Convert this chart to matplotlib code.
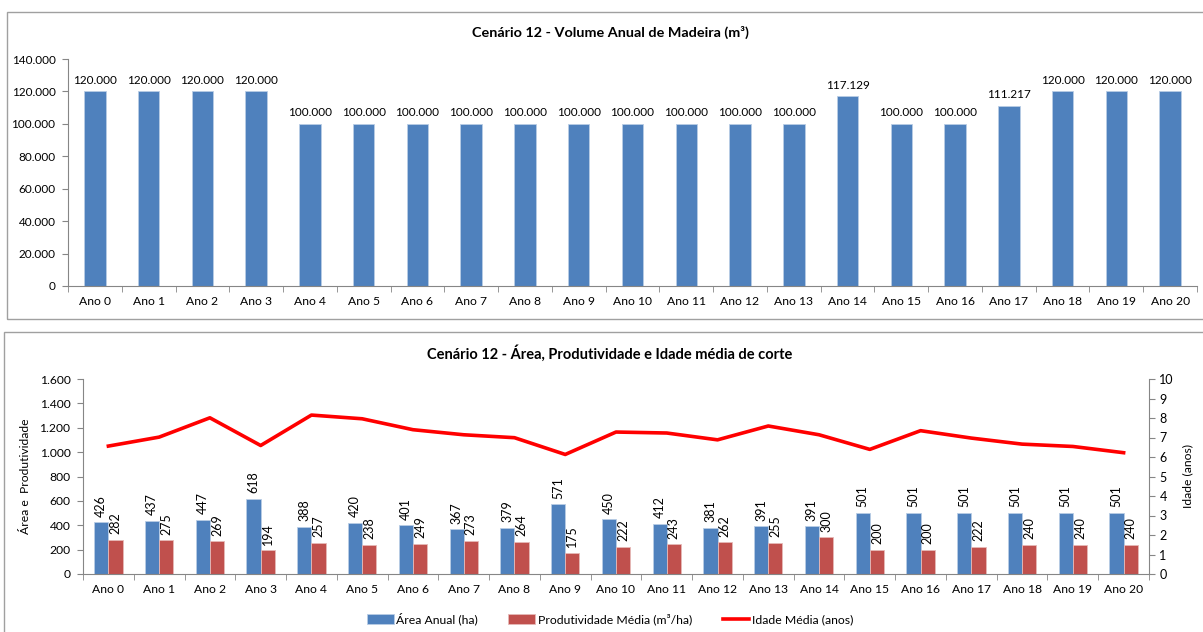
import matplotlib
matplotlib.use("Agg")
import matplotlib.pyplot as plt
from matplotlib.patches import Rectangle
from matplotlib.ticker import FuncFormatter

plt.rcParams['font.family'] = ['Lato', 'DejaVu Sans']

anos = ["Ano %d" % i for i in range(21)]
volume = [120000, 120000, 120000, 120000, 100000, 100000, 100000, 100000, 100000, 100000,
          100000, 100000, 100000, 100000, 117129, 100000, 100000, 111217, 120000, 120000, 120000]
area = [426, 437, 447, 618, 388, 420, 401, 367, 379, 571, 450, 412, 381, 391, 391,
        501, 501, 501, 501, 501, 501]
produtividade = [282, 275, 269, 194, 257, 238, 249, 273, 264, 175, 222, 243, 262, 255, 300,
                 200, 200, 222, 240, 240, 240]
idade = [6.56, 7.02, 8.01, 6.59, 8.15, 7.96, 7.40, 7.14, 6.99, 6.13, 7.28, 7.23, 6.88, 7.59,
         7.14, 6.39, 7.35, 6.97, 6.66, 6.54, 6.22]

BLUE = '#4F81BD'
RED = '#C0504D'
LINE = '#FF0000'
GRAY = '#868686'
W, H = 1203, 632

def thousands(v, pos=None):
    return f"{int(v):,}".replace(",", ".")

def style_axis(ax, ysize):
    for s in ['top', 'right']:
        ax.spines[s].set_visible(False)
    ax.spines['left'].set_color(GRAY)
    ax.spines['bottom'].set_color(GRAY)
    ax.set_xlim(-0.5, len(anos) - 0.5)
    ax.set_xticks(range(len(anos)))
    ax.set_xticklabels(anos, fontsize=8.7)
    ax.set_xticks([i - 0.5 for i in range(len(anos) + 1)], minor=True)
    ax.tick_params(axis='x', which='major', length=0, pad=7)
    ax.tick_params(axis='x', which='minor', length=4, color=GRAY)
    ax.tick_params(axis='y', length=4, color=GRAY, labelsize=ysize, pad=5)

fig = plt.figure(figsize=(W / 100, H / 100), dpi=100)

# panel borders
fig.patches.append(Rectangle((7 / W, 1 - 319 / H), 1.0, (319 - 12) / H, transform=fig.transFigure,
                             fill=False, edgecolor='#A0A0A0', lw=1))
fig.patches.append(Rectangle((4 / W, -0.05), 1.0, 1 - 332 / H + 0.05, transform=fig.transFigure,
                             fill=False, edgecolor='#A0A0A0', lw=1))

# ---- top chart
ax = fig.add_axes([68 / W, 1 - 286 / H, (1197 - 68) / W, (286 - 59) / H])
x = range(len(anos))
ax.bar(x, volume, width=0.4, color=BLUE, edgecolor='#B9CDE5', linewidth=0.6)
for i, v in enumerate(volume):
    ax.annotate(thousands(v), (i, v), xytext=(0, 4), textcoords='offset points',
                ha='center', va='bottom', fontsize=8.5)
ax.set_ylim(0, 140000)
ax.set_yticks(range(0, 140001, 20000))
ax.yaxis.set_major_formatter(FuncFormatter(thousands))
style_axis(ax, 8.5)
fig.text(610 / W, 1 - 32 / H, "Cenário 12 - Volume Anual de Madeira (m³)", ha='center', va='center',
         fontsize=10.4, fontweight='bold')

# ---- bottom chart
ax1 = fig.add_axes([83 / W, 1 - 574 / H, (1149 - 83) / W, (574 - 379) / H])
bw = 0.28
b1 = ax1.bar([i - bw / 2 for i in x], area, width=bw, color=BLUE, edgecolor='#B9CDE5', linewidth=0.6,
             label='Área Anual (ha)')
b2 = ax1.bar([i + bw / 2 for i in x], produtividade, width=bw, color=RED, edgecolor='#E6B9B8',
             linewidth=0.6, label='Produtividade Média (m³/ha)')
for i in x:
    ax1.annotate(str(area[i]), (i - bw / 2, area[i]), xytext=(0, 4), textcoords='offset points',
                 ha='center', va='bottom', rotation=90, fontsize=9)
    ax1.annotate(str(produtividade[i]), (i + bw / 2, produtividade[i]), xytext=(0, 4),
                 textcoords='offset points', ha='center', va='bottom', rotation=90, fontsize=9)
ax1.set_ylim(0, 1600)
ax1.set_yticks(range(0, 1601, 200))
ax1.yaxis.set_major_formatter(FuncFormatter(thousands))
ax1.set_ylabel("Área e  Produtividade", fontsize=8.7, labelpad=6)
style_axis(ax1, 8.7)

ax2 = ax1.twinx()
ln, = ax2.plot(list(x), idade, color=LINE, lw=2.6, label='Idade Média (anos)')
ax2.set_ylim(0, 10)
ax2.set_yticks(range(0, 11))
for s in ['top', 'left', 'bottom']:
    ax2.spines[s].set_visible(False)
ax2.spines['right'].set_color(GRAY)
ax2.tick_params(axis='y', length=4, color=GRAY, labelsize=9)
ax2.set_ylabel("Idade (anos)", fontsize=8.7, labelpad=6)

fig.text(610 / W, 1 - 353 / H, "Cenário 12 - Área, Produtividade e Idade média de corte",
         ha='center', va='center', fontsize=10.5, fontweight='bold')

fig.legend(handles=[b1, b2, ln], loc='center', bbox_to_anchor=(610 / W, 1 - 619 / H), ncol=3,
           frameon=False, fontsize=8.8, handlelength=2.2, handleheight=0.8, columnspacing=2.5,
           handletextpad=0.2)

fig.savefig("out.png", dpi=100)
